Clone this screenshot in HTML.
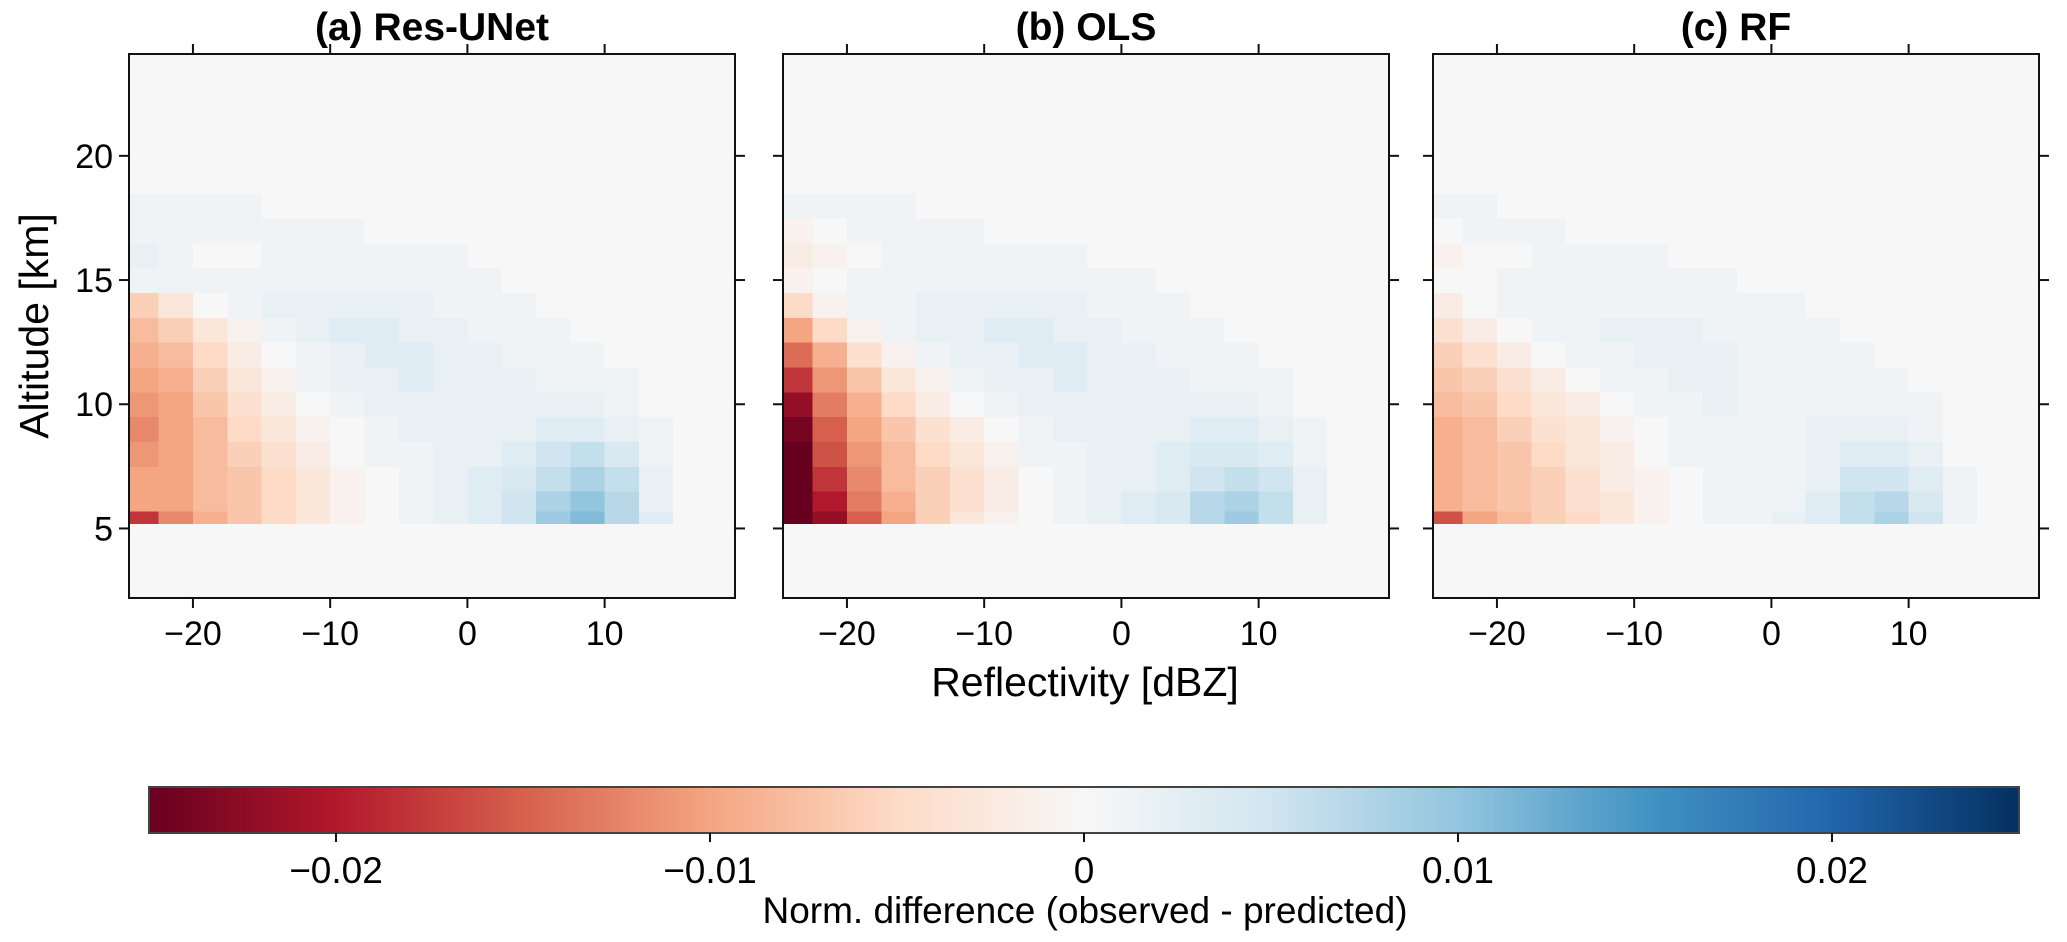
<!DOCTYPE html>
<html><head><meta charset="utf-8">
<style>
html,body{margin:0;padding:0;background:#fff;}
svg{display:block;font-family:"Liberation Sans",Arial,sans-serif;}
</style></head>
<body>
<svg id="fig" width="2067" height="942" viewBox="0 0 2067 942">
<defs>
<linearGradient id="cbgrad" x1="0" x2="1" y1="0" y2="0">
<stop offset="0" stop-color="#67001f"/><stop offset="0.1" stop-color="#b2182b"/>
<stop offset="0.2" stop-color="#d6604d"/><stop offset="0.3" stop-color="#f4a582"/>
<stop offset="0.4" stop-color="#fddbc7"/><stop offset="0.5" stop-color="#f7f7f7"/>
<stop offset="0.6" stop-color="#d1e5f0"/><stop offset="0.7" stop-color="#92c5de"/>
<stop offset="0.8" stop-color="#4393c3"/><stop offset="0.9" stop-color="#2166ac"/>
<stop offset="1" stop-color="#053061"/>
</linearGradient>
</defs>
<g id="panels"></g>
<text x="1085" y="696" text-anchor="middle" font-size="41">Reflectivity [dBZ]</text>
<text transform="translate(48,326) rotate(-90)" text-anchor="middle" font-size="41">Altitude [km]</text>
<g>
<rect x="149" y="787" width="1870" height="46" fill="url(#cbgrad)" stroke="#444" stroke-width="2"/>
<g id="cbticks"></g>
<text x="1085" y="923" text-anchor="middle" font-size="37">Norm. difference (observed - predicted)</text>
</g>
</svg>
<script>
const titles = ["(a) Res-UNet", "(b) OLS", "(c) RF"];
const xTicks = [-20, -10, 0, 10];
const yTicks = [5, 10, 15, 20];
const cbTicks = [-0.02, -0.01, 0, 0.01, 0.02];
const cbTickLabels = ["\u22120.02", "\u22120.01", "0", "0.01", "0.02"];
// column lower edges in dBZ (2.5 dBZ bins)
const dbzEdges = [-25,-22.5,-20,-17.5,-15,-12.5,-10,-7.5,-5,-2.5,0,2.5,5,7.5,10,12.5,15,17.5,20];
// altitude bin edges in km
const altEdges = [5.2,5.7,6.5,7.5,8.5,9.5,10.5,11.5,12.5,13.5,14.5,15.5,16.5,17.5,18.5,19.5];
// values in units of 0.001 (rows bottom -> top)
const resunet = [
[-18,-12,-9,-7,-5,-3,-1,0,1,2,3,5,9,11,7,3,0,0],
[-10,-10,-8,-7,-5,-3,-1,0,1,2,3,5,8,10,7,2,0,0],
[-10,-10,-8,-7,-5,-3,-1,0,1,2,3,4,6,8,6,2,0,0],
[-11,-10,-8,-6,-4,-2,0,1,1,2,2,3,5,6,4,1,0,0],
[-12,-10,-8,-5,-3,-1,0,1,2,2,2,2,3,3,2,1,0,0],
[-11,-10,-7,-4,-2,0,1,2,2,2,2,2,2,2,1,0,0,0],
[-10,-9,-6,-3,-1,1,2,2,3,2,2,2,1,1,1,0,0,0],
[-9,-8,-5,-2,0,1,2,3,3,2,2,1,1,1,0,0,0,0],
[-8,-6,-3,-1,1,2,3,3,2,2,1,1,1,0,0,0,0,0],
[-6,-3,0,1,2,2,2,2,2,1,1,1,0,0,0,0,0,0],
[1,1,1,1,1,1,1,1,1,1,1,0,0,0,0,0,0,0],
[2,1,0,0,1,1,1,1,1,1,0,0,0,0,0,0,0,0],
[1,1,1,1,1,1,1,0,0,0,0,0,0,0,0,0,0,0],
[1,1,1,1,0,0,0,0,0,0,0,0,0,0,0,0,0,0],
[0,0,0,0,0,0,0,0,0,0,0,0,0,0,0,0,0,0]];
const ols = [
[-25,-22,-15,-10,-6,-3,-1,0,1,2,3,4,7,9,6,2,0,0],
[-25,-20,-13,-9,-6,-4,-2,0,1,2,3,4,7,8,6,2,0,0],
[-25,-18,-12,-8,-6,-4,-2,0,1,2,2,3,5,6,5,2,0,0],
[-25,-16,-11,-8,-5,-3,-1,1,1,2,2,3,4,4,3,1,0,0],
[-24,-15,-10,-7,-4,-2,0,1,2,2,2,2,3,3,2,1,0,0],
[-22,-13,-9,-5,-2,0,1,2,2,2,2,2,2,2,1,0,0,0],
[-18,-11,-7,-3,-1,1,2,2,3,2,2,2,1,1,1,0,0,0],
[-14,-9,-4,-1,1,2,2,3,3,2,2,1,1,1,0,0,0,0],
[-10,-5,-1,1,2,2,3,3,2,2,1,1,1,0,0,0,0,0],
[-5,-1,1,1,2,2,2,2,2,1,1,1,0,0,0,0,0,0],
[-1,0,1,1,1,1,1,1,1,1,1,0,0,0,0,0,0,0],
[-2,-1,0,1,1,1,1,1,1,0,0,0,0,0,0,0,0,0],
[-1,0,1,1,1,1,0,0,0,0,0,0,0,0,0,0,0,0],
[1,1,1,1,0,0,0,0,0,0,0,0,0,0,0,0,0,0],
[0,0,0,0,0,0,0,0,0,0,0,0,0,0,0,0,0,0]];
const rf = [
[-16,-10,-8,-6,-5,-3,-1,0,1,1,2,3,6,8,5,1,0,0],
[-9,-8,-7,-6,-4,-3,-1,0,1,1,1,3,6,7,4,1,0,0],
[-9,-8,-7,-6,-4,-2,-1,0,1,1,1,2,5,5,3,1,0,0],
[-9,-8,-7,-5,-3,-2,0,1,1,1,1,2,3,3,2,0,0,0],
[-9,-8,-6,-4,-3,-1,0,1,1,1,1,2,2,2,1,0,0,0],
[-8,-7,-5,-3,-2,0,1,1,2,1,1,1,1,1,1,0,0,0],
[-7,-6,-4,-2,0,1,1,2,2,1,1,1,1,1,0,0,0,0],
[-6,-4,-2,0,1,1,2,2,2,1,1,1,1,0,0,0,0,0],
[-4,-2,0,1,1,2,2,2,1,1,1,1,0,0,0,0,0,0],
[-2,0,1,1,1,1,1,1,1,1,1,0,0,0,0,0,0,0],
[0,0,1,1,1,1,1,1,1,0,0,0,0,0,0,0,0,0],
[-1,0,0,1,1,1,1,0,0,0,0,0,0,0,0,0,0,0],
[0,1,1,1,0,0,0,0,0,0,0,0,0,0,0,0,0,0],
[1,1,0,0,0,0,0,0,0,0,0,0,0,0,0,0,0,0],
[0,0,0,0,0,0,0,0,0,0,0,0,0,0,0,0,0,0]];
const panelData = [resunet, ols, rf];
const panelNames = ["res-unet", "ols", "rf"];

const NS = "http://www.w3.org/2000/svg";
const stops = [[103,0,31],[178,24,43],[214,96,77],[244,165,130],[253,219,199],[247,247,247],[209,229,240],[146,197,222],[67,147,195],[33,102,172],[5,48,97]];
function cmap(v){
  let t = (v/1000 + 0.025)/0.05; t = Math.max(0, Math.min(1, t));
  const p = t*10, i = Math.min(9, Math.floor(p)), f = p - i;
  const a = stops[i], b = stops[i+1];
  return "rgb(" + a.map((c,k)=>Math.round(c + (b[k]-c)*f)).join(",") + ")";
}
const X0 = [129, 783, 1433], W = 606, Y0 = 54, H = 544;
const XMIN = -24.66, XMAX = 19.5, YMIN = 2.2, YMAX = 24.1;
function mk(tag, attrs, parent){ const e = document.createElementNS(NS, tag); for (const k in attrs) e.setAttribute(k, attrs[k]); parent.appendChild(e); return e; }
const root = document.getElementById("panels");
for (let p = 0; p < 3; p++){
  const sx = d => X0[p] + (d - XMIN)/(XMAX - XMIN)*W;
  const sy = a => Y0 + (YMAX - a)/(YMAX - YMIN)*H;
  const g = mk("g", {}, root);
  
  
  const cp = mk("clipPath", {id: "clip" + p}, g);
  mk("rect", {x: X0[p], y: Y0, width: W, height: H}, cp);
  const bg = mk("rect", {x: X0[p], y: Y0, width: W, height: H, fill: "#f7f7f7"}, g);
  
  
  const hm = mk("g", {"clip-path": "url(#clip" + p + ")", "shape-rendering": "crispEdges"}, g);
  
  
  const data = panelData[p];
  for (let r = 0; r < data.length; r++){
    for (let c = 0; c < data[r].length; c++){
      const xa = sx(dbzEdges[c]), xb = sx(dbzEdges[c+1]);
      const ya = sy(altEdges[r+1]), yb = sy(altEdges[r]);
      const cell = mk("rect", {x: xa, y: ya, width: xb - xa + 0.5, height: yb - ya + 0.5, fill: cmap(data[r][c])}, hm);
      
      
    }
  }
  const frame = mk("rect", {x: X0[p], y: Y0, width: W, height: H, fill: "none", stroke: "#111", "stroke-width": 2}, g);
  
  
  for (const t of xTicks){
    const x = sx(t);
    mk("line", {x1: x, x2: x, y1: Y0 + H, y2: Y0 + H + 10, stroke: "#111", "stroke-width": 2}, g);
    mk("line", {x1: x, x2: x, y1: Y0, y2: Y0 - 10, stroke: "#111", "stroke-width": 2}, g);
    const tl = mk("text", {x: x, y: Y0 + H + 47, "text-anchor": "middle", "font-size": 34}, g);
    tl.textContent = (t < 0 ? "\u2212" + (-t) : "" + t);
    
    
  }
  for (const t of yTicks){
    const y = sy(t);
    mk("line", {x1: X0[p], x2: X0[p] - 10, y1: y, y2: y, stroke: "#111", "stroke-width": 2}, g);
    mk("line", {x1: X0[p] + W, x2: X0[p] + W + 10, y1: y, y2: y, stroke: "#111", "stroke-width": 2}, g);
    if (p === 0){
      const tl = mk("text", {x: X0[p] - 16, y: y + 12, "text-anchor": "end", "font-size": 34}, g);
      tl.textContent = "" + t;
      
      
    }
  }
  const tt = mk("text", {x: X0[p] + W/2, y: 40, "text-anchor": "middle", "font-size": 39, "font-weight": "bold"}, g);
  tt.textContent = titles[p];
  
  
}
const cbg = document.getElementById("cbticks");
cbTicks.forEach((v, i) => {
  const x = 149 + (v + 0.025)/0.05*1870;
  mk("line", {x1: x, x2: x, y1: 833, y2: 842, stroke: "#111", "stroke-width": 2}, cbg);
  const tl = mk("text", {x: x, y: 883, "text-anchor": "middle", "font-size": 37}, cbg);
  tl.textContent = cbTickLabels[i];
  
  
});
</script>
</body></html>
